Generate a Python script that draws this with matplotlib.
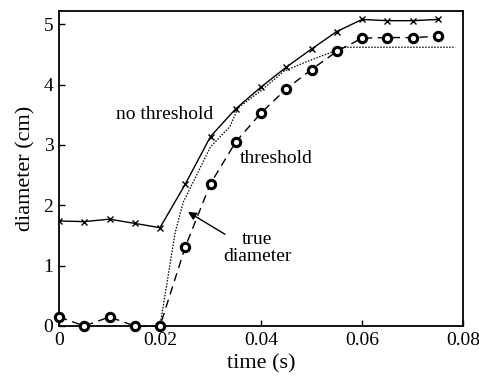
# Diâmetro estimado ao longo do tempo: com e sem limiar, e valor real
import matplotlib
matplotlib.use("Agg")
import matplotlib.pyplot as plt

# dados
time_s = [0.0, 0.005, 0.01, 0.015, 0.02, 0.025, 0.03, 0.035,
          0.04, 0.045, 0.05, 0.055, 0.06, 0.065, 0.07, 0.075]
no_threshold = [1.74, 1.73, 1.77, 1.70, 1.63, 2.35, 3.14, 3.60,
                3.96, 4.29, 4.59, 4.88, 5.08, 5.06, 5.06, 5.08]
threshold = [0.15, 0.0, 0.15, 0.0, 0.0, 1.31, 2.36, 3.05,
             3.53, 3.93, 4.25, 4.55, 4.77, 4.78, 4.78, 4.80]

true_time = [0.020, 0.0230, 0.0246, 0.0300, 0.0338, 0.0355, 0.0400,
             0.0445, 0.0490, 0.0550, 0.0562, 0.0785]
true_diam = [0.0, 1.55, 2.05, 2.97, 3.30, 3.62, 3.90,
             4.22, 4.38, 4.57, 4.62, 4.62]

x_ticks = [0, 0.02, 0.04, 0.06, 0.08]
x_tick_labels = ["0", "0.02", "0.04", "0.06", "0.08"]
y_ticks = [0, 1, 2, 3, 4, 5]

plt.rcParams["font.family"] = ["Liberation Serif", "DejaVu Serif"]

fig = plt.figure(figsize=(4.79, 3.88), dpi=100)
ax = fig.add_axes([0.1232, 0.1598, 0.8434, 0.8118])

ax.plot(time_s, no_threshold, color="black", linewidth=1.0,
        marker="x", markersize=4, markeredgewidth=1.0)
ax.plot(time_s, threshold, color="black", linewidth=1.0, linestyle=(0, (6, 4)),
        marker="o", markersize=6, markeredgewidth=2.2, markerfacecolor="white",
        clip_on=False, zorder=3)
ax.plot(true_time, true_diam, color="black", linewidth=0.9, linestyle=(0, (1.2, 1.2)))

ax.text(0.01129, 3.50, "no threshold", fontsize=14, va="center", ha="left")
ax.text(0.0358, 2.77, "threshold", fontsize=14, va="center", ha="left")
ax.text(0.0393, 1.29, "true\ndiameter", fontsize=14, va="center", ha="center",
        multialignment="center", linespacing=1.05)
ax.annotate("", xy=(0.02554, 1.89), xytext=(0.03287, 1.52),
            arrowprops=dict(arrowstyle="-|>", color="black", linewidth=1.0,
                            mutation_scale=12, shrinkA=0, shrinkB=0))

ax.set_xlim(0, 0.08)
ax.set_ylim(0, 5.22)
ax.set_xticks(x_ticks)
ax.set_xticklabels(x_tick_labels)
ax.set_yticks(y_ticks)
ax.tick_params(direction="in", length=4, width=1.0, labelsize=14, pad=4)
for side in ["top", "right", "left", "bottom"]:
    ax.spines[side].set_linewidth(1.3)

ax.set_xlabel("time (s)", fontsize=16, labelpad=4)
ax.set_ylabel("diameter (cm)", fontsize=16, labelpad=6)

fig.savefig("out.png", dpi=100)
